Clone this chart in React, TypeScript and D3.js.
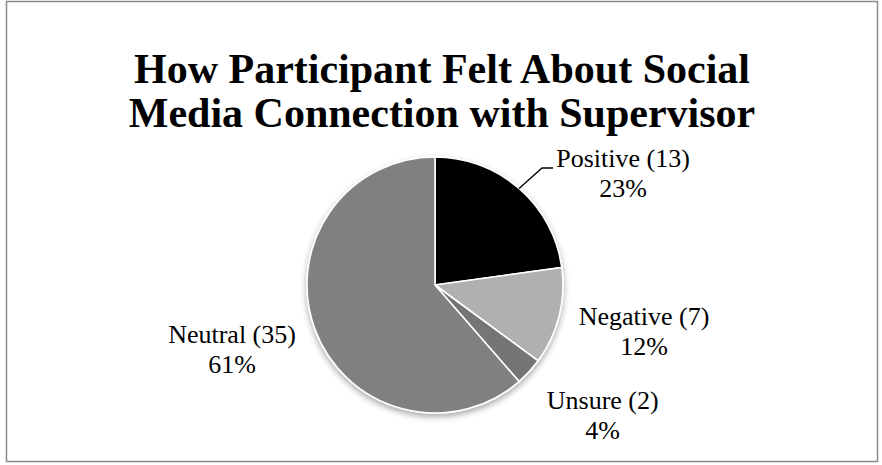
import React from "react";
import * as d3 from "d3";

const categories = ["Positive", "Negative", "Unsure", "Neutral"];
const counts = [13, 7, 2, 35];
const percents = ["23%", "12%", "4%", "61%"];
const colors = ["#000000", "#b0b0b0", "#747474", "#808080"];
const titleLines = ["How Participant Felt About Social", "Media Connection with Supervisor"];

const W = 882;
const H = 465;
const cx = 435;
const cy = 285;
const R = 128;
// small label nudges (Excel-style label placement)
const nudges: [number, number][] = [[0, 0], [2.5, -5.2], [11, -13], [-3.5, -9.6]];

export default function App() {
  const data = categories.map((c, i) => ({ c, v: counts[i], p: percents[i], col: colors[i] }));
  const pie = d3.pie<any>().value((d) => d.v).sort(null);
  const arcs = pie(data);
  const arc = d3.arc<any>().innerRadius(0).outerRadius(R);
  const labelArc = d3.arc<any>().innerRadius(213).outerRadius(213);
  const font = "'Liberation Serif', 'Times New Roman', serif";

  return (
    <svg width={W} height={H} style={{ position: "absolute", left: 0, top: 0, background: "#fff" }}>
      <defs>
        <filter id="sh" x="-20%" y="-20%" width="140%" height="140%">
          <feDropShadow dx="0" dy="3" stdDeviation="3" floodColor="#000" floodOpacity="0.35" />
        </filter>
      </defs>
      <rect x={6.5} y={1.5} width={871} height={460} fill="#fff" stroke="#8a8a8a" strokeWidth={1.5} />
      <g fontFamily={font} fontWeight="bold" fontSize={42} textAnchor="middle" fill="#000">
        {titleLines.map((t, i) => (
          <text key={i} x={442} y={83 + i * 44}>{t}</text>
        ))}
      </g>
      <g transform={`translate(${cx},${cy})`}>
        <g filter="url(#sh)">
          {arcs.map((a, i) => (
            <path key={i} d={arc(a) as string} fill={a.data.col} stroke="#fff" strokeWidth={1.6} />
          ))}
        </g>
        {arcs.map((a, i) => {
          let [lx, ly] = labelArc.centroid(a);
          lx += nudges[i][0];
          ly += nudges[i][1];
          let leader = null;
          if (i === 0) {
            // Positive label moved up with a leader line
            const mid = (a.startAngle + a.endAngle) / 2;
            const ex = Math.sin(mid) * R;
            const ey = -Math.cos(mid) * R;
            lx = 188;
            ly = -111;
            const kx = 107;
            const ky = -117;
            leader = (
              <polyline
                points={`${ex},${ey} ${kx},${ky} ${kx + 11},${ky}`}
                fill="none"
                stroke="#000"
                strokeWidth={1.3}
              />
            );
          }
          return (
            <g key={i}>
              {leader}
              <text fontFamily={font} fontSize={26} textAnchor="middle" fill="#000">
                <tspan x={lx} y={ly - 7}>{`${a.data.c} (${a.data.v})`}</tspan>
                <tspan x={lx} y={ly + 23}>{a.data.p}</tspan>
              </text>
            </g>
          );
        })}
      </g>
    </svg>
  );
}
